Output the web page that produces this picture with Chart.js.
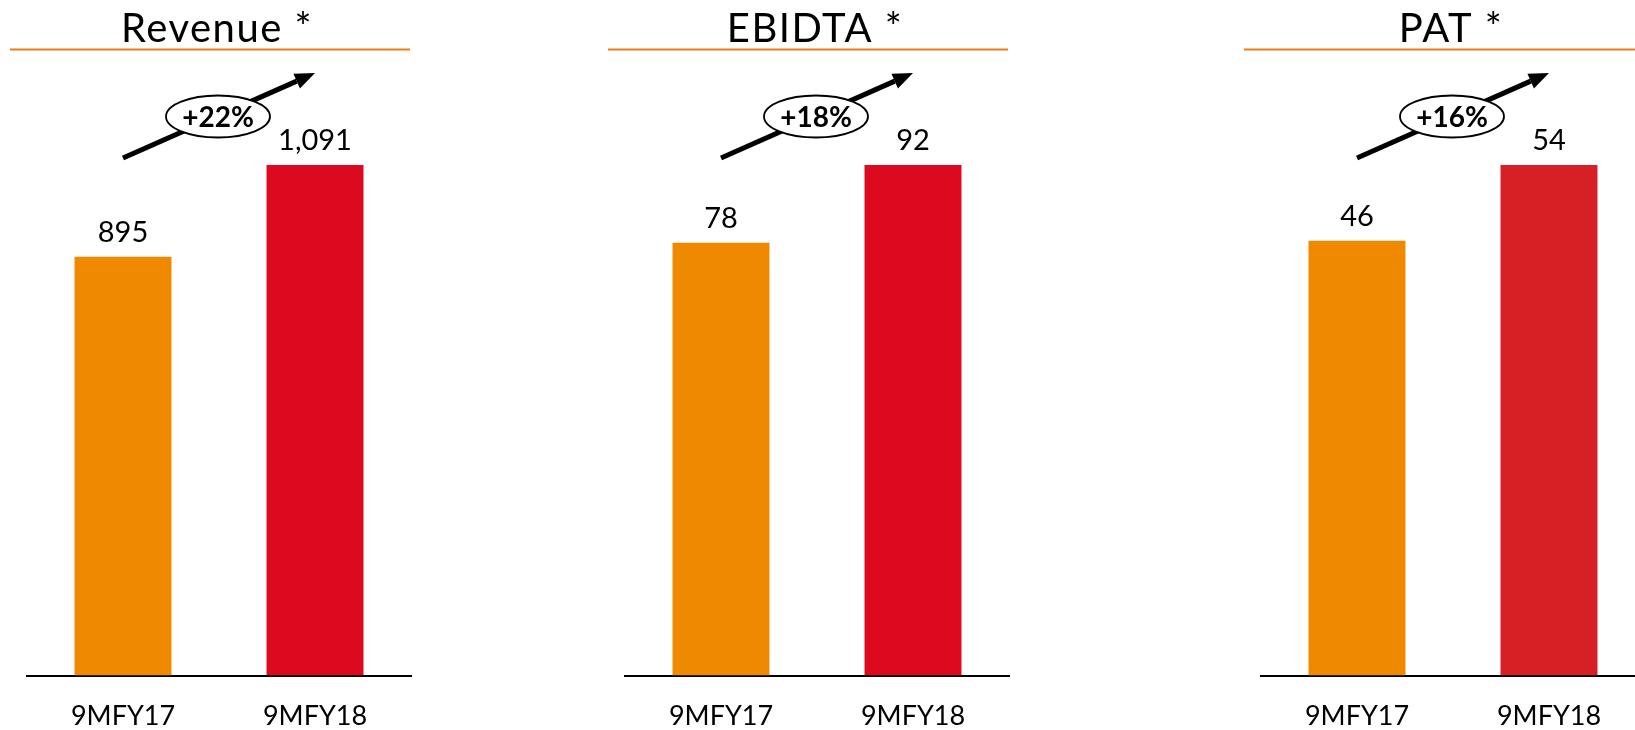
<!DOCTYPE html>
<html>
<head>
<meta charset="utf-8">
<script src="https://cdn.jsdelivr.net/npm/chart.js@4.4.1/dist/chart.umd.min.js"></script>
<style>
    html, body { margin: 0; padding: 0; background: #fff; }
    body { width: 1635px; height: 730px; overflow: hidden; position: relative; }
    canvas { position: absolute; top: 0; }
</style>
</head>
<body>
<canvas id="c1" width="420" height="756" style="left:0px"></canvas>
<canvas id="c2" width="420" height="756" style="left:600px"></canvas>
<canvas id="c3" width="420" height="756" style="left:1230px"></canvas>
<script>
// Datos
const categories = ['9MFY17', '9MFY18'];
const panelTitles = ['Revenue *', 'EBIDTA *', 'PAT *'];
const revenue = [895, 1091];
const ebidta = [78, 92];
const pat = [46, 54];
const growthLabels = ['+22%', '+18%', '+16%'];

const orange = '#EF8A00';
const barColors = [
    [orange, '#DC0A1E'],
    [orange, '#DC0A1E'],
    [orange, '#D71F26']
];

const FONT = 'Lato, "Open Sans", sans-serif';

// Título con línea naranja, valores sobre las barras y flecha de crecimiento
const panelDecor = {
    id: 'panelDecor',
    afterDraw(chart, args, opts) {
        const ctx = chart.ctx;
        const area = chart.chartArea;
        const bars = chart.getDatasetMeta(0).data;
        const values = chart.data.datasets[0].data;

        ctx.save();

        // línea bajo el título
        const ulLeft = area.left - 17;
        const ulRight = area.right - 1;
        ctx.strokeStyle = '#ED7D16';
        ctx.lineWidth = 2;
        ctx.beginPath();
        ctx.moveTo(ulLeft, 49.5);
        ctx.lineTo(ulRight, 49.5);
        ctx.stroke();

        ctx.fillStyle = '#000';
        ctx.font = '40px ' + FONT;
        ctx.letterSpacing = '1.5px';
        ctx.textAlign = 'center';
        ctx.textBaseline = 'alphabetic';
        ctx.fillText(opts.title, (ulLeft + ulRight) / 2 + 7, 42);
        ctx.letterSpacing = '0px';

        // valores
        ctx.font = '29px ' + FONT;
        bars.forEach((bar, i) => {
            ctx.fillText(values[i].toLocaleString('en-US'), bar.x, bar.y - 15);
        });

        // flecha
        const top = bars[1].y;
        const x0 = bars[0].x, y0 = top - 7;
        const x1 = bars[1].x, y1 = top - 92;
        const ang = Math.atan2(y1 - y0, x1 - x0);
        const headLen = 20, headW = 8;
        const bx = x1 - headLen * Math.cos(ang);
        const by = y1 - headLen * Math.sin(ang);

        ctx.strokeStyle = '#000';
        ctx.lineWidth = 5;
        ctx.beginPath();
        ctx.moveTo(x0, y0);
        ctx.lineTo(bx, by);
        ctx.stroke();

        ctx.beginPath();
        ctx.moveTo(x1, y1);
        ctx.lineTo(bx + headW * Math.sin(ang), by - headW * Math.cos(ang));
        ctx.lineTo(bx - headW * Math.sin(ang), by + headW * Math.cos(ang));
        ctx.closePath();
        ctx.fillStyle = '#000';
        ctx.fill();

        // óvalo con porcentaje
        const cx = (x0 + x1) / 2 - 1, cy = (y0 + y1) / 2 + 1;
        ctx.beginPath();
        ctx.ellipse(cx, cy, 52, 21, 0, 0, Math.PI * 2);
        ctx.fillStyle = '#fff';
        ctx.fill();
        ctx.lineWidth = 1.8;
        ctx.stroke();

        ctx.fillStyle = '#000';
        ctx.font = 'bold 28px ' + FONT;
        ctx.textBaseline = 'middle';
        ctx.fillText(opts.growth, cx, cy + 1);

        ctx.restore();
    }
};

function makePanel(canvasId, title, values, colors, growth, padLeft, padRight) {
    const ctx = document.getElementById(canvasId).getContext('2d');
    return new Chart(ctx, {
        type: 'bar',
        data: {
            labels: categories,
            datasets: [{
                data: values,
                backgroundColor: colors,
                borderWidth: 0,
                categoryPercentage: 1,
                barPercentage: 0.505
            }]
        },
        options: {
            responsive: false,
            animation: false,
            devicePixelRatio: 1,
            layout: {
                padding: { top: 165, left: padLeft, right: padRight, bottom: 0 }
            },
            scales: {
                x: {
                    grid: { display: false, drawTicks: false },
                    border: { display: true, color: '#000', width: 2 },
                    ticks: {
                        color: '#000',
                        padding: 24,
                        font: { family: FONT, size: 27 }
                    }
                },
                y: {
                    display: false,
                    min: 0,
                    max: Math.max(...values)
                }
            },
            plugins: {
                legend: { display: false },
                tooltip: { enabled: false },
                panelDecor: { title: title, growth: growth }
            }
        },
        plugins: [panelDecor]
    });
}

makePanel('c1', panelTitles[0], revenue, barColors[0], growthLabels[0], 27, 9);
makePanel('c2', panelTitles[1], ebidta, barColors[1], growthLabels[1], 25, 11);
makePanel('c3', panelTitles[2], pat, barColors[2], growthLabels[2], 31, 5);
</script>
</body>
</html>
